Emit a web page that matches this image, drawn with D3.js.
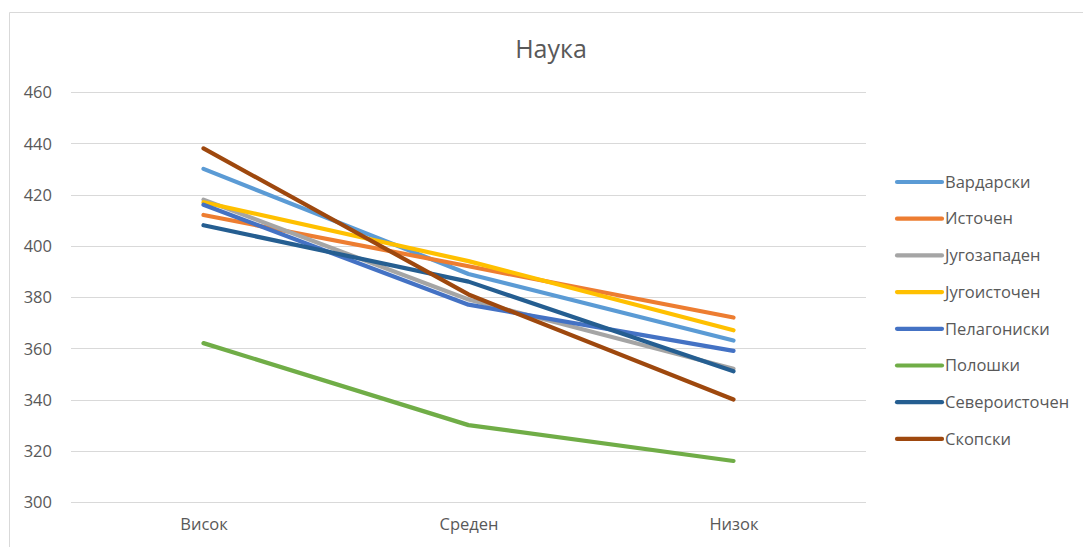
<!DOCTYPE html>
<html>
<head>
<meta charset="utf-8">
<script src="https://cdn.jsdelivr.net/npm/d3@7"></script>
<style>
  body { margin: 0; background: #fff; }
  text { font-family: "Open Sans", "Noto Sans", sans-serif; fill: #595959; }
</style>
</head>
<body>
<div id="chart"></div>
<script>
const categories = ['Висок', 'Среден', 'Низок'];
const seriesNames = ['Вардарски', 'Источен', 'Југозападен', 'Југоисточен', 'Пелагониски', 'Полошки', 'Североисточен', 'Скопски'];
const seriesColors = ['#5b9bd5', '#ed7d31', '#a5a5a5', '#ffc000', '#4472c4', '#70ad47', '#255e91', '#9e480e'];
const vardarski = [430, 389, 363];
const istochen = [412, 392, 372];
const jugozapaden = [418, 379, 352];
const jugoistochen = [417, 394, 367];
const pelagoniski = [416, 377, 359];
const poloshki = [362, 330, 316];
const severoistochen = [408, 386, 351];
const skopski = [438, 381, 340];
const yTicks = [300, 320, 340, 360, 380, 400, 420, 440, 460];

const seriesValues = [vardarski, istochen, jugozapaden, jugoistochen, pelagoniski, poloshki, severoistochen, skopski];

const width = 1083, height = 547;
const margin = { t: 92, r: 217, b: 45, l: 71 };
const innerW = width - margin.l - margin.r;
const innerH = height - margin.t - margin.b;

const svg = d3.select('#chart')
  .append('svg')
    .attr('width', width)
    .attr('height', height);

// chart area frame (only top and left edges visible)
svg.append('path')
  .attr('d', 'M9.5,' + height + 'V12.5H' + width)
  .attr('fill', 'none')
  .attr('stroke', '#d9d9d9')
  .attr('stroke-width', 1);

svg.append('text')
  .attr('x', 551)
  .attr('y', 58)
  .attr('text-anchor', 'middle')
  .style('font-size', '25px')
  .text('Наука');

const g = svg.append('g')
  .attr('transform', 'translate(' + margin.l + ',' + margin.t + ')');

const x = d3.scalePoint()
  .domain(categories)
  .range([0, innerW])
  .padding(0.5);

const y = d3.scaleLinear()
  .domain([300, 460])
  .range([innerH, 0]);

// gridlines
g.append('g')
  .selectAll('line')
  .data(yTicks)
  .join('line')
    .attr('x1', 0)
    .attr('x2', innerW)
    .attr('y1', d => Math.round(y(d)) + 0.5)
    .attr('y2', d => Math.round(y(d)) + 0.5)
    .attr('stroke', '#d9d9d9')
    .attr('stroke-width', 1);

const yAxis = g.append('g')
  .call(d3.axisLeft(y).tickValues(yTicks).tickSize(0).tickPadding(19));
yAxis.select('.domain').remove();
yAxis.selectAll('text').style('font-size', '16.5px').attr('fill', '#595959').attr('dy', '0.35em');

const xAxis = g.append('g')
  .attr('transform', 'translate(0,' + innerH + ')')
  .call(d3.axisBottom(x).tickSize(0).tickPadding(16));
xAxis.select('.domain').remove();
xAxis.selectAll('text').style('font-size', '16.5px').attr('fill', '#595959');

const line = d3.line()
  .x((d, i) => x(categories[i]))
  .y(d => y(d));

g.append('g')
  .selectAll('path')
  .data(seriesValues)
  .join('path')
    .attr('fill', 'none')
    .attr('stroke', (d, i) => seriesColors[i])
    .attr('stroke-width', 4.2)
    .attr('stroke-linecap', 'round')
    .attr('stroke-linejoin', 'round')
    .attr('d', line);

// legend
const legend = svg.append('g')
  .attr('transform', 'translate(897,182)');

const item = legend.selectAll('g')
  .data(seriesNames)
  .join('g')
    .attr('transform', (d, i) => 'translate(0,' + (i * 36.7) + ')');

item.append('line')
  .attr('x1', 0)
  .attr('x2', 45)
  .attr('stroke', (d, i) => seriesColors[i])
  .attr('stroke-width', 4.2)
  .attr('stroke-linecap', 'round');

item.append('text')
  .attr('x', 48)
  .attr('dy', '0.35em')
  .style('font-size', '16.5px')
  .text(d => d);
</script>
</body>
</html>
